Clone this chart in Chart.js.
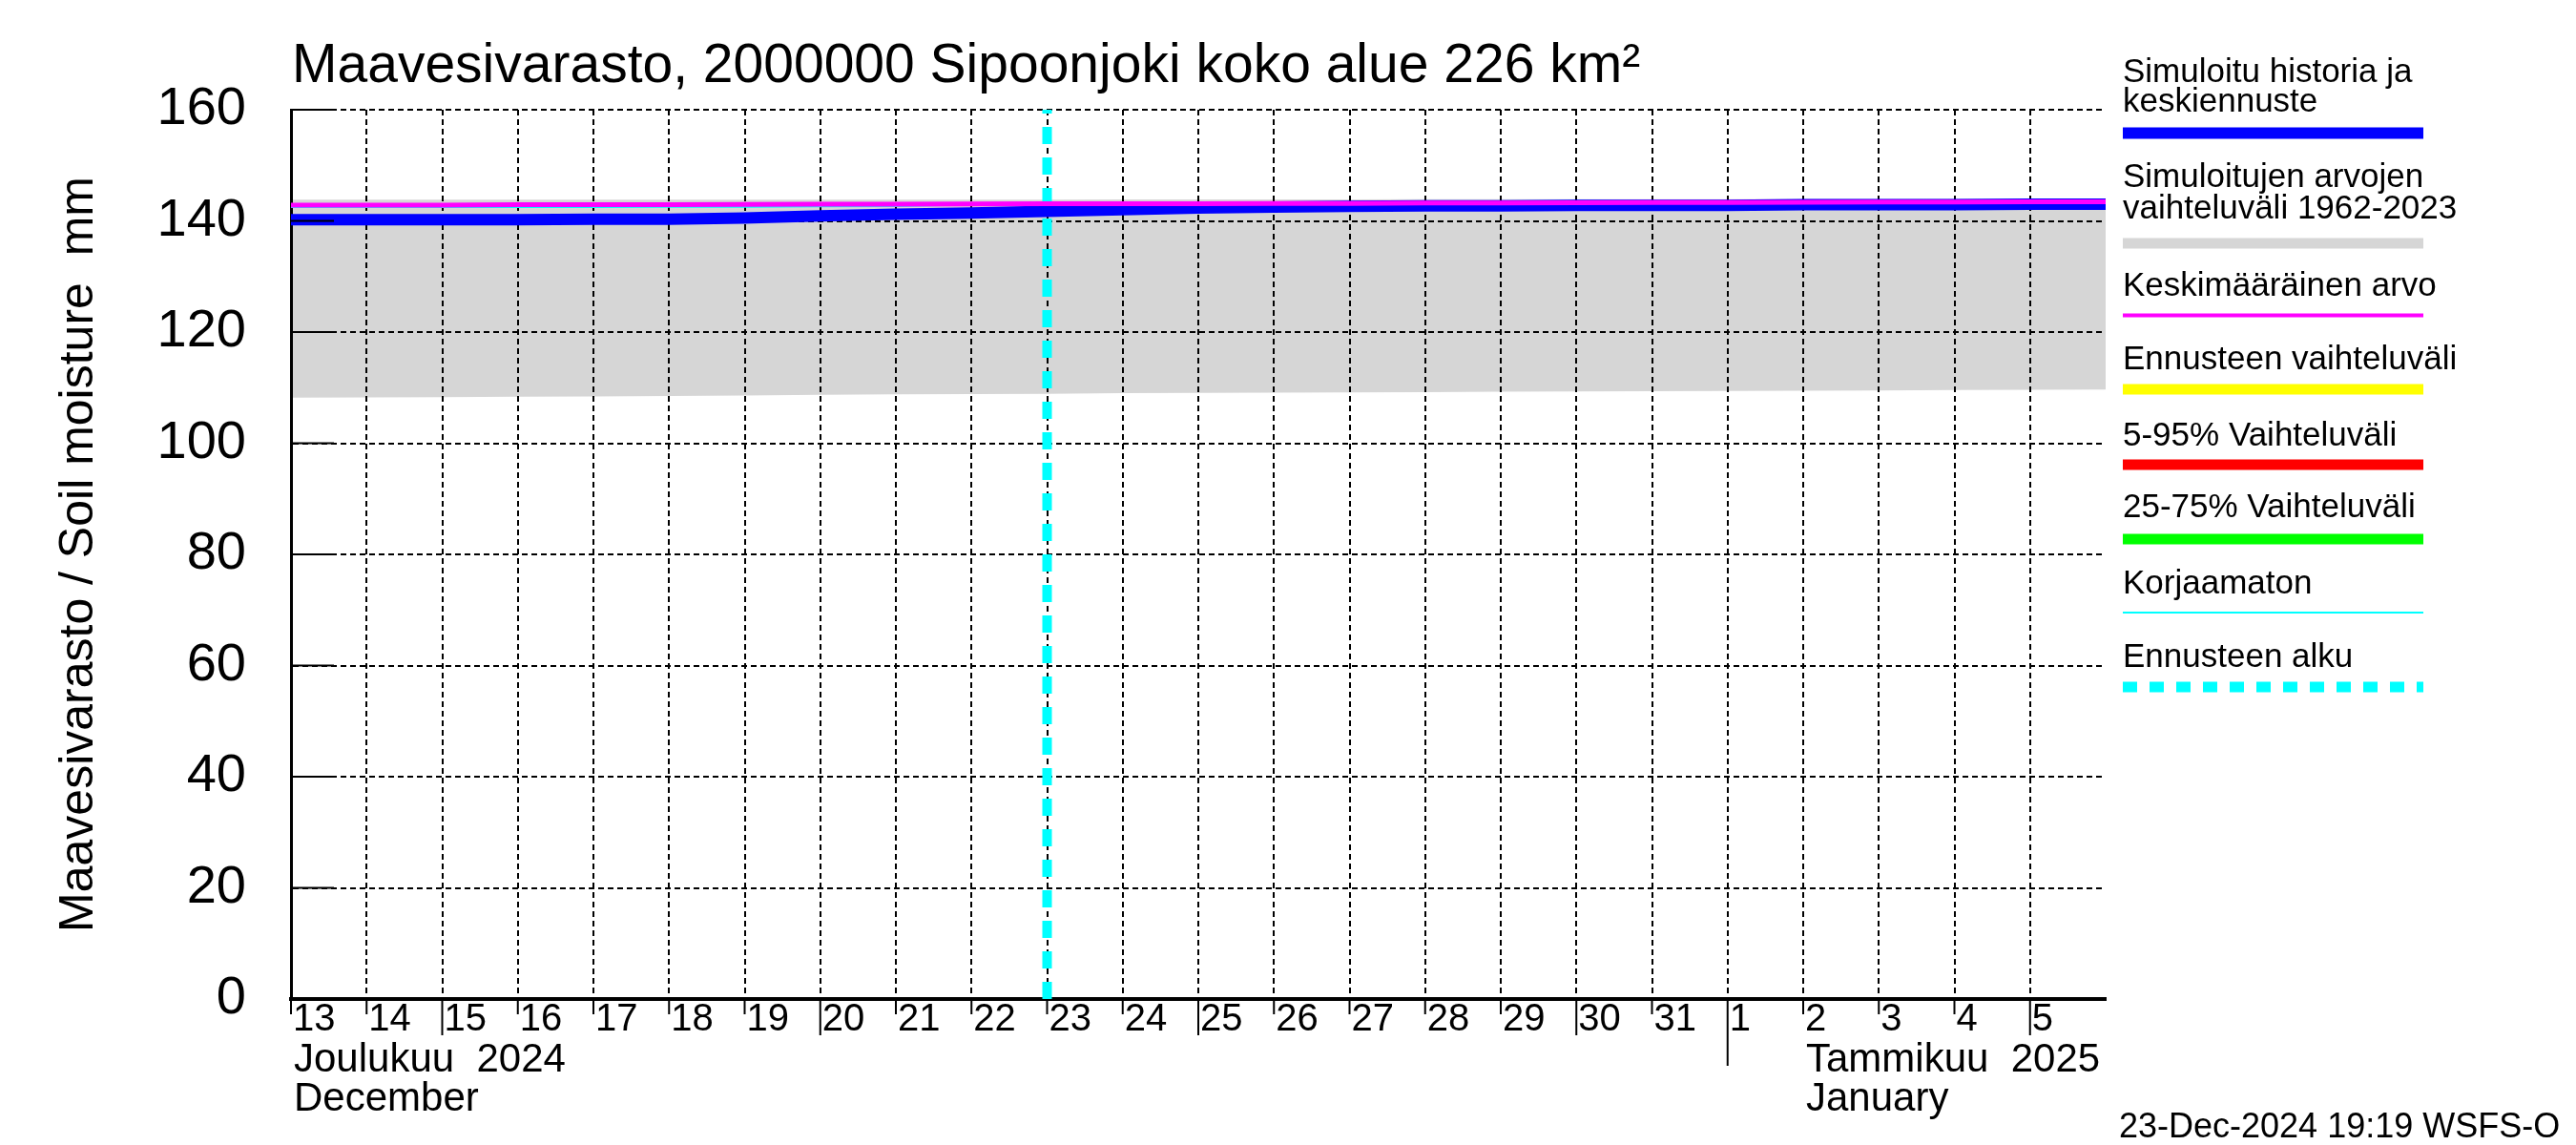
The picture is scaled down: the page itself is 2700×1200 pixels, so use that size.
<!DOCTYPE html>
<html>
<head>
<meta charset="utf-8">
<script src="https://cdn.jsdelivr.net/npm/chart.js@4.4.1/dist/chart.umd.min.js"></script>
<style>
  html, body { margin: 0; padding: 0; background: #fff; }
</style>
</head>
<body>
<canvas id="myChart" width="2700" height="1200"></canvas>
<script>
// x = days from 13 Dec 2024 00:00 (24 = 6 Jan 2025)
const days = [0, 1, 2, 3, 4, 5, 6, 7, 8, 9, 10, 11, 12, 13, 14, 15, 16, 17, 18, 19, 20, 21, 22, 23, 24];
const dayLabels = ['13', '14', '15', '16', '17', '18', '19', '20', '21', '22', '23', '24', '25', '26', '27', '28', '29', '30', '31', '1', '2', '3', '4', '5'];
const yTicks = [0, 20, 40, 60, 80, 100, 120, 140, 160];

const simulated = [140.2, 140.2, 140.2, 140.2, 140.3, 140.3, 140.5, 140.9, 141.2, 141.4, 141.7, 142.0, 142.3, 142.5, 142.6, 142.7, 142.7, 142.8, 142.8, 142.8, 142.9, 142.9, 142.9, 143.0, 143.0];
const mean = [142.85, 142.85, 142.85, 142.9, 142.9, 142.9, 142.95, 143.0, 143.0, 143.05, 143.1, 143.1, 143.1, 143.15, 143.15, 143.2, 143.2, 143.25, 143.3, 143.3, 143.35, 143.4, 143.4, 143.45, 143.45];
const rangeMax = [143.8, 143.8, 143.8, 143.8, 143.8, 143.8, 143.8, 143.8, 143.8, 143.8, 143.8, 143.85, 143.85, 143.85, 143.85, 143.9, 143.9, 143.9, 143.9, 143.9, 143.95, 143.95, 144.0, 144.0, 144.0];
const rangeMin = [108.2, 108.25, 108.3, 108.35, 108.4, 108.5, 108.6, 108.7, 108.8, 108.85, 108.9, 109.0, 109.05, 109.1, 109.15, 109.2, 109.25, 109.3, 109.35, 109.4, 109.45, 109.5, 109.55, 109.6, 109.65];
const uncorrectedDays = [0, 1, 2, 3, 4, 5, 6, 7, 8, 9, 10];
const uncorrected = [142.5, 142.5, 142.5, 142.5, 142.5, 142.55, 142.55, 142.6, 142.65, 142.9, 143.05];
const forecastStart = 10;

const FONT = 'Liberation Sans, Arial, Helvetica, sans-serif';
Chart.defaults.font.family = FONT;
Chart.defaults.color = '#000';

const pts = (xs, ys) => xs.map((x, i) => ({ x: x, y: ys[i] }));

const legendItems = [
  { lines: [['Simuloitu historia ja', 86], ['keskiennuste', 117]], color: '#0000ff', y: 139.5, w: 12 },
  { lines: [['Simuloitujen arvojen', 196], ['vaihteluväli 1962-2023', 229]], color: '#d6d6d6', y: 255, w: 11 },
  { lines: [['Keskimääräinen arvo', 310]], color: '#ff00ff', y: 330.5, w: 4 },
  { lines: [['Ennusteen vaihteluväli', 387]], color: '#ffff00', y: 408, w: 11 },
  { lines: [['5-95% Vaihteluväli', 467]], color: '#ff0000', y: 487, w: 11 },
  { lines: [['25-75% Vaihteluväli', 542]], color: '#00ff00', y: 565, w: 11 },
  { lines: [['Korjaamaton', 622]], color: '#00ffff', y: 642, w: 2 },
  { lines: [['Ennusteen alku', 699]], color: '#00ffff', y: 720, w: 11, dash: [15, 13] }
];

const decorations = {
  id: 'decorations',
  afterDraw(chart) {
    const ctx = chart.ctx;
    const area = chart.chartArea;
    const xs = chart.scales.x;
    const ys = chart.scales.y;
    ctx.save();
    ctx.strokeStyle = '#000';
    ctx.lineWidth = 2;
    // y ticks drawn inside the plot
    ys.ticks.forEach(t => {
      const y = ys.getPixelForValue(t.value);
      ctx.beginPath();
      ctx.moveTo(area.left, y);
      ctx.lineTo(area.left + 45, y);
      ctx.stroke();
    });
    // x ticks below the axis
    xs.ticks.forEach(t => {
      if (t.value >= dayLabels.length) return;
      const lab = dayLabels[t.value];
      let len = 16;
      if (lab === '1') len = 70;
      else if (Number(lab) % 5 === 0) len = 38;
      const x = xs.getPixelForValue(t.value);
      ctx.beginPath();
      ctx.moveTo(x, area.bottom);
      ctx.lineTo(x, area.bottom + len);
      ctx.stroke();
    });

    ctx.fillStyle = '#000';
    ctx.textAlign = 'left';
    ctx.textBaseline = 'alphabetic';
    ctx.font = '57px ' + FONT;
    ctx.fillText('Maavesivarasto, 2000000 Sipoonjoki koko alue 226 km²', 306, 86);

    ctx.font = '42px ' + FONT;
    ctx.fillText('Joulukuu  2024', 308, 1123);
    ctx.fillText('December', 308, 1164);
    ctx.fillText('Tammikuu  2025', 1893, 1123);
    ctx.fillText('January', 1893, 1164);

    ctx.font = '36px ' + FONT;
    ctx.fillText('23-Dec-2024 19:19 WSFS-O', 2221, 1192);

    // legend
    ctx.font = '35px ' + FONT;
    legendItems.forEach(it => {
      it.lines.forEach(l => ctx.fillText(l[0], 2225, l[1]));
      ctx.save();
      ctx.strokeStyle = it.color;
      ctx.lineWidth = it.w;
      ctx.setLineDash(it.dash || []);
      ctx.beginPath();
      ctx.moveTo(2225, it.y);
      ctx.lineTo(2540, it.y);
      ctx.stroke();
      ctx.restore();
    });
    ctx.restore();
  }
};

new Chart(document.getElementById('myChart').getContext('2d'), {
  type: 'line',
  data: {
    datasets: [
      { label: 'Keskimääräinen arvo', data: pts(days, mean), borderColor: '#ff00ff', borderWidth: 5, pointRadius: 0, fill: false, order: 0 },
      { label: 'Korjaamaton', data: pts(uncorrectedDays, uncorrected), borderColor: '#00ffff', borderWidth: 2, pointRadius: 0, fill: false, order: 1 },
      { label: 'Simuloitu historia ja keskiennuste', data: pts(days, simulated), borderColor: '#0000ff', borderWidth: 12, pointRadius: 0, fill: false, order: 2 },
      { label: 'Ennusteen alku', data: [{ x: forecastStart, y: yTicks[0] }, { x: forecastStart, y: yTicks[yTicks.length - 1] }], borderColor: '#00ffff', borderWidth: 10, borderDash: [18, 14], pointRadius: 0, fill: false, order: 3 },
      { label: 'Simuloitujen arvojen vaihteluväli', data: pts(days, rangeMax), borderColor: 'rgba(0,0,0,0)', borderWidth: 0, backgroundColor: '#d6d6d6', pointRadius: 0, fill: '+1', order: 4 },
      { label: 'min', data: pts(days, rangeMin), borderColor: 'rgba(0,0,0,0)', borderWidth: 0, pointRadius: 0, fill: false, order: 5 }
    ]
  },
  options: {
    responsive: false,
    devicePixelRatio: 1,
    animation: false,
    events: [],
    layout: { padding: { top: 115, right: 493, bottom: 0, left: 0 } },
    plugins: {
      legend: { display: false },
      tooltip: { enabled: false },
      filler: { drawTime: 'beforeDraw' }
    },
    scales: {
      x: {
        type: 'linear',
        min: days[0],
        max: days[days.length - 1],
        afterFit: s => { s.height = 153; },
        ticks: {
          stepSize: 1,
          autoSkip: false,
          maxRotation: 0,
          align: 'start',
          labelOffset: 2,
          padding: -2,
          font: { size: 40 },
          callback: v => dayLabels[v] !== undefined ? dayLabels[v] : ''
        },
        grid: {
          color: c => (c.tick && c.tick.value >= dayLabels.length) ? 'rgba(0,0,0,0)' : '#000',
          lineWidth: 2,
          drawTicks: false
        },
        border: { display: true, color: '#000', width: 4, dash: [6, 4] }
      },
      y: {
        min: yTicks[0],
        max: yTicks[yTicks.length - 1],
        afterFit: s => { s.width = 305; },
        afterBuildTicks: s => { s.ticks = yTicks.map(v => ({ value: v })); },
        ticks: { font: { size: 56 }, padding: 47 },
        grid: { color: '#000', lineWidth: 2, drawTicks: false },
        border: { display: true, color: '#000', width: 3, dash: [6, 4] },
        title: {
          display: true,
          text: 'Maavesivarasto / Soil moisture  mm',
          font: { size: 50, lineHeight: 1.2 },
          padding: { top: 53, bottom: 0 }
        }
      }
    }
  },
  plugins: [decorations]
});
</script>
</body>
</html>
